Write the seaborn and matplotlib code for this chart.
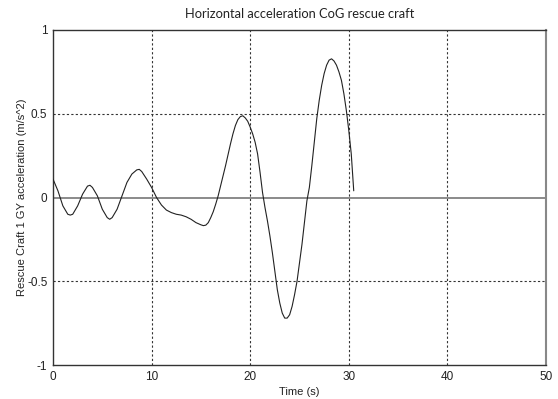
import matplotlib
matplotlib.use("Agg")
import matplotlib.pyplot as plt
from matplotlib.ticker import MultipleLocator
import seaborn as sns
import pandas as pd

# Rescue craft GY acceleration time history
time_s = [0.0, 0.5, 1.0, 1.5, 1.75, 2.0, 2.5, 3.0, 3.5, 3.75, 4.0, 4.5,
          5.0, 5.5, 5.75, 6.0, 6.5, 7.0, 7.5, 8.0, 8.5, 8.75, 9.0, 9.5,
          10.0, 10.5, 11.0, 11.5, 12.0, 12.5, 13.0, 13.5, 14.0, 14.5,
          15.0, 15.25, 15.5, 15.75,
          16.0, 16.25, 16.5, 16.75, 17.0, 17.25, 17.5, 17.75,
          18.0, 18.25, 18.5, 18.75, 19.0, 19.25, 19.5, 19.75,
          20.0, 20.25, 20.5, 20.75, 21.0, 21.25, 21.5, 21.75,
          22.0, 22.25, 22.5, 22.75, 23.0, 23.25, 23.5, 23.75,
          24.0, 24.25, 24.5, 24.75, 25.0, 25.25, 25.5, 25.75,
          26.0, 26.25, 26.5, 26.75, 27.0, 27.25, 27.5, 27.75,
          28.0, 28.25, 28.5, 28.75, 29.0, 29.25, 29.5, 29.75,
          30.0, 30.25, 30.5]
accel = [0.11, 0.04, -0.05, -0.10, -0.105, -0.10, -0.05, 0.02, 0.068, 0.073, 0.06, 0.01,
         -0.07, -0.12, -0.13, -0.12, -0.07, 0.01, 0.09, 0.14, 0.165, 0.168, 0.155, 0.11,
         0.06, 0.0, -0.045, -0.075, -0.09, -0.10, -0.105, -0.115, -0.13, -0.15,
         -0.163, -0.168, -0.165, -0.15,
         -0.12, -0.085, -0.04, 0.01, 0.07, 0.13, 0.19, 0.255,
         0.32, 0.38, 0.43, 0.465, 0.483, 0.488, 0.475, 0.455,
         0.42, 0.38, 0.33, 0.26, 0.15, 0.03, -0.06, -0.14,
         -0.23, -0.33, -0.44, -0.55, -0.63, -0.69, -0.72, -0.72,
         -0.70, -0.65, -0.58, -0.50, -0.39, -0.28, -0.15, -0.02,
         0.06, 0.19, 0.33, 0.47, 0.58, 0.67, 0.74, 0.79,
         0.82, 0.828, 0.815, 0.79, 0.75, 0.70, 0.62, 0.52,
         0.40, 0.26, 0.04]

x_ticks = [0, 10, 20, 30, 40, 50]
y_ticks = [-1, -0.5, 0, 0.5, 1]
y_tick_labels = ["-1", "-0.5", "0", "0.5", "1"]

sns.set_style("white")
plt.rcParams["font.family"] = ["Liberation Sans", "DejaVu Sans"]

df = pd.DataFrame({"t": time_s, "a": accel})

fig = plt.figure(figsize=(5.58, 3.99), dpi=100)
ax = fig.add_axes([53 / 558, 1 - 365 / 399, (546 - 53) / 558, (365 - 30) / 399])

# grid and zero line
for xv in [10, 20, 30, 40]:
    ax.axvline(xv, color="#333333", lw=0.8, ls=(0, (2, 2)), zorder=1)
for yv in [-0.5, 0.5]:
    ax.axhline(yv, color="#333333", lw=0.8, ls=(0, (2, 2)), zorder=1)
ax.axhline(0, color="#777777", lw=1.2, zorder=1)

sns.lineplot(data=df, x="t", y="a", ax=ax, color="#222222", lw=0.8, zorder=3)

ax.set_xlim(0, 50)
ax.set_ylim(-1, 1)
ax.set_xticks(x_ticks)
ax.set_xticklabels([str(v) for v in x_ticks])
ax.set_yticks(y_ticks)
ax.set_yticklabels(y_tick_labels)
ax.xaxis.set_minor_locator(MultipleLocator(1))
ax.yaxis.set_minor_locator(MultipleLocator(0.1))
ax.tick_params(axis="both", which="major", direction="out", length=3, width=0.8,
               labelsize=8.5, pad=1, colors="#333333")
ax.tick_params(axis="x", which="minor", direction="in", length=2, width=0.8, color="#333333")
ax.tick_params(axis="y", which="minor", direction="out", length=2, width=0.8, color="#333333")
ax.tick_params(labelcolor="#222222")

for side in ["left", "bottom", "top"]:
    ax.spines[side].set_color("#333333")
    ax.spines[side].set_linewidth(1.0)
ax.spines["right"].set_color("#888888")
ax.spines["right"].set_linewidth(1.5)

ax.set_xlabel("Time (s)", fontsize=8, labelpad=3, color="#222222")
ax.set_ylabel("Rescue Craft 1 GY acceleration (m/s^2)", fontsize=8, labelpad=0, color="#222222")
ax.set_title("Horizontal acceleration CoG rescue craft", fontsize=9.3, family=["Lato", "DejaVu Sans"],
             pad=9, color="#222222")

fig.savefig("out.png", dpi=100)
